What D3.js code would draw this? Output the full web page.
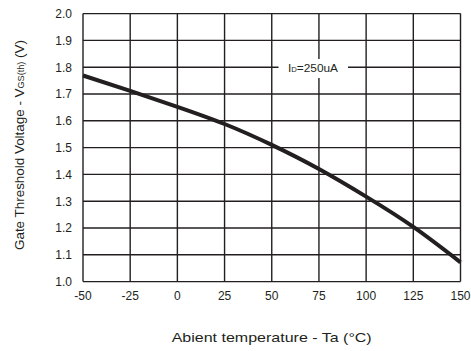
<!DOCTYPE html>
<html><head><meta charset="utf-8">
<script src="https://cdn.jsdelivr.net/npm/d3@7"></script>
<style>body{margin:0;background:#fff}svg{display:block}text{font-family:"Liberation Sans",Arial,sans-serif;fill:#231f20}</style>
</head><body><svg id="c" width="471" height="351"></svg>
<script>
const temps = [-50, -25, 0, 25, 50, 75, 100, 125, 150];
const vgs = [1.769, 1.712, 1.652, 1.588, 1.510, 1.420, 1.317, 1.204, 1.072];
const xTicks = [-50, -25, 0, 25, 50, 75, 100, 125, 150];
const yTicks = [1.0, 1.1, 1.2, 1.3, 1.4, 1.5, 1.6, 1.7, 1.8, 1.9, 2.0];

const svg = d3.select("#c");
const x = d3.scaleLinear().domain([-50, 150]).range([83, 460.5]);
const y = d3.scaleLinear().domain([1.0, 2.0]).range([281.6, 13.6]);
const ink = "#231f20";

const grid = svg.append("g");
grid.selectAll("line.v").data(xTicks).join("line")
  .attr("x1", d => x(d)).attr("x2", d => x(d)).attr("y1", y(1.0)).attr("y2", y(2.0))
  .attr("stroke", ink).attr("stroke-width", 1.4);
grid.selectAll("line.h").data(yTicks).join("line")
  .attr("y1", d => y(d)).attr("y2", d => y(d)).attr("x1", x(-50)).attr("x2", x(150))
  .attr("stroke", ink).attr("stroke-width", 1.4);

// label with white background
const lab = svg.append("g");
lab.append("rect").attr("x", 278.5).attr("y", 59).attr("width", 69.5).attr("height", 19).attr("fill", "#fff");
const lt = lab.append("text").attr("x", 288).attr("y", 72).attr("font-size", 11.5)
  .attr("textLength", 50).attr("lengthAdjust", "spacingAndGlyphs");
lt.append("tspan").text("I");
lt.append("tspan").attr("font-size", 7.5).text("D");
lt.append("tspan").text("=250uA");

// curve
const line = d3.line().x((d, i) => x(temps[i])).y(d => y(d)).curve(d3.curveNatural);
svg.append("path").attr("d", line(vgs)).attr("fill", "none").attr("stroke", ink)
  .attr("stroke-width", 4);

// tick labels
svg.selectAll("text.xt").data(xTicks).join("text").attr("class", "xt")
  .attr("x", d => x(d)).attr("y", 300).attr("text-anchor", "middle").attr("font-size", 12)
  .text(d => d);
svg.selectAll("text.yt").data(yTicks).join("text").attr("class", "yt")
  .attr("x", 72).attr("y", d => y(d) + 4.3).attr("text-anchor", "end").attr("font-size", 12)
  .text(d => d.toFixed(1));

// axis titles
svg.append("text").attr("x", 171.7).attr("y", 342).attr("font-size", 13)
  .attr("textLength", 200).attr("lengthAdjust", "spacingAndGlyphs")
  .text("Abient temperature - Ta (°C)");
const yt = svg.append("text").attr("transform", "translate(24,250) rotate(-90)")
  .attr("font-size", 12.5).attr("textLength", 210).attr("lengthAdjust", "spacingAndGlyphs");
yt.append("tspan").text("Gate Threshold Voltage - V");
yt.append("tspan").attr("font-size", 8.5).text("GS(th)");
yt.append("tspan").text(" (V)");
</script></body></html>
